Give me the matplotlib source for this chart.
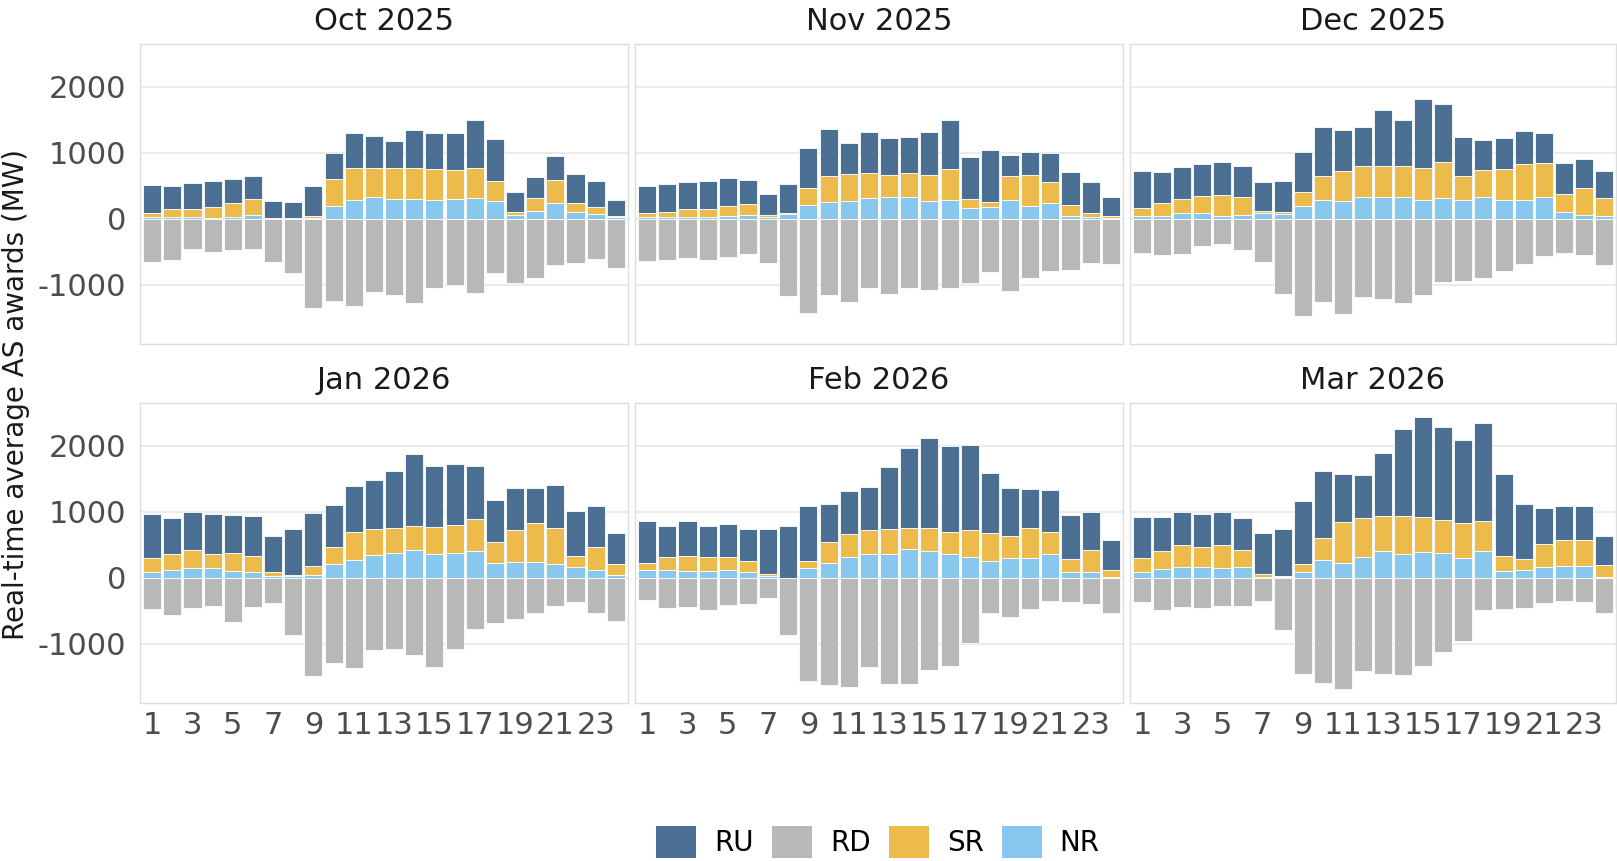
import matplotlib
matplotlib.use("Agg")
import matplotlib.pyplot as plt
import numpy as np
from matplotlib.patches import Patch

plt.rcParams['font.family'] = ['DejaVu Sans']
plt.rcParams['axes.unicode_minus'] = False

hours = list(range(1, 25))
months = ["Oct 2025", "Nov 2025", "Dec 2025", "Jan 2026", "Feb 2026", "Mar 2026"]
series = ["RU", "RD", "SR", "NR"]
colors = {"RU": "#4C6F94", "RD": "#B8B8B8", "SR": "#EDBB4C", "NR": "#89C8EE"}

ru = {
    "Oct 2025": [419, 359, 383, 389, 369, 343, 268, 248, 455, 389, 540, 485, 419, 580, 540, 551, 727, 646, 293, 313, 369, 445, 394, 253],
    "Nov 2025": [419, 414, 420, 419, 429, 354, 329, 429, 606, 702, 464, 611, 555, 540, 651, 743, 641, 787, 319, 338, 439, 495, 475, 283],
    "Dec 2025": [555, 460, 490, 475, 495, 475, 440, 470, 606, 732, 626, 596, 843, 697, 1040, 888, 596, 450, 459, 490, 445, 469, 444, 404],
    "Jan 2026": [669, 553, 583, 598, 568, 598, 558, 699, 804, 639, 689, 728, 859, 1085, 924, 925, 804, 643, 623, 528, 648, 688, 618, 482],
    "Feb 2026": [633, 477, 532, 477, 502, 498, 694, 784, 834, 573, 644, 648, 939, 1211, 1367, 1307, 1281, 900, 729, 578, 639, 664, 588, 457],
    "Mar 2026": [634, 513, 493, 498, 503, 493, 623, 709, 950, 1010, 729, 653, 954, 1311, 1517, 1412, 1251, 1493, 1241, 830, 552, 512, 502, 447],
}
rd = {
    "Oct 2025": [-651, -631, -455, -510, -480, -455, -651, -828, -1354, -1242, -1328, -1106, -1162, -1283, -1056, -1005, -1131, -828, -975, -894, -707, -672, -616, -753],
    "Nov 2025": [-641, -626, -591, -631, -581, -530, -672, -1167, -1424, -1157, -1258, -1045, -1141, -1056, -1076, -1045, -970, -808, -1096, -899, -798, -778, -672, -682],
    "Dec 2025": [-525, -545, -535, -414, -384, -475, -651, -1146, -1475, -1258, -1449, -1192, -1212, -1283, -1157, -955, -944, -894, -788, -682, -571, -515, -545, -697],
    "Jan 2026": [-472, -563, -457, -437, -673, -447, -387, -864, -1487, -1296, -1367, -1095, -1075, -1176, -1357, -1075, -774, -693, -628, -543, -427, -372, -543, -663],
    "Feb 2026": [-332, -457, -447, -492, -417, -392, -312, -874, -1573, -1633, -1653, -1352, -1618, -1618, -1397, -1332, -995, -533, -603, -472, -347, -362, -392, -543],
    "Mar 2026": [-372, -497, -447, -457, -427, -437, -357, -799, -1457, -1598, -1688, -1417, -1457, -1472, -1342, -1121, -960, -487, -482, -462, -382, -357, -362, -528],
}
sr = {
    "Oct 2025": [66, 116, 132, 162, 202, 248, 3, 3, 35, 409, 475, 450, 470, 470, 465, 449, 455, 298, 56, 202, 354, 126, 101, 15],
    "Nov 2025": [61, 86, 121, 132, 147, 177, 30, 20, 258, 399, 409, 379, 344, 374, 389, 459, 131, 81, 353, 475, 324, 167, 61, 40],
    "Dec 2025": [122, 197, 217, 262, 314, 273, 35, 35, 202, 369, 454, 475, 475, 475, 480, 546, 353, 419, 470, 545, 525, 273, 415, 273],
    "Jan 2026": [206, 241, 271, 216, 276, 252, 55, 25, 136, 266, 422, 407, 382, 367, 407, 432, 487, 317, 488, 593, 543, 161, 356, 156],
    "Feb 2026": [115, 196, 226, 206, 196, 156, 25, 0, 115, 322, 356, 367, 382, 327, 347, 326, 417, 432, 342, 468, 331, 191, 322, 111],
    "Mar 2026": [201, 276, 331, 296, 351, 246, 45, 20, 121, 342, 623, 593, 528, 583, 528, 492, 532, 452, 231, 165, 342, 387, 402, 176],
}
nr = {
    "Oct 2025": [25, 25, 20, 15, 30, 50, 2, 2, 10, 192, 288, 323, 293, 293, 288, 293, 308, 268, 50, 116, 232, 106, 71, 20],
    "Nov 2025": [20, 20, 20, 20, 45, 50, 20, 71, 207, 253, 268, 318, 323, 323, 268, 288, 162, 177, 288, 192, 232, 40, 20, 5],
    "Dec 2025": [45, 45, 81, 86, 45, 50, 81, 71, 197, 283, 263, 323, 323, 323, 288, 308, 288, 323, 288, 288, 323, 106, 50, 45],
    "Jan 2026": [85, 111, 146, 146, 101, 80, 25, 20, 45, 201, 271, 337, 377, 417, 362, 372, 402, 221, 241, 241, 206, 166, 111, 45],
    "Feb 2026": [111, 111, 101, 101, 111, 90, 25, 0, 141, 221, 312, 357, 362, 432, 402, 362, 312, 246, 291, 291, 357, 90, 90, 10],
    "Mar 2026": [90, 126, 166, 166, 146, 166, 10, 5, 90, 261, 221, 312, 402, 357, 387, 377, 302, 402, 101, 116, 166, 181, 176, 10],
}

W, H = 1617, 861
fig = plt.figure(figsize=(W / 100, H / 100), dpi=100)

cols_px = [(140, 628), (635, 1123), (1130, 1616)]
rows_px = [(44, 344), (403, 703)]

tick_color = "#4D4D4D"
fs_tick = 22
fs_title = 22

for i, m in enumerate(months):
    r, c = divmod(i, 3)
    x0, x1 = cols_px[c]
    y0, y1 = rows_px[r]
    ax = fig.add_axes([x0 / W, 1 - y1 / H, (x1 - x0) / W, (y1 - y0) / H])
    x = np.array(hours)
    nr_v = np.array(nr[m]); sr_v = np.array(sr[m]); ru_v = np.array(ru[m]); rd_v = np.array(rd[m])
    kw = dict(width=0.9, edgecolor="white", linewidth=0.6, zorder=3)
    ax.bar(x, nr_v, color=colors["NR"], **kw)
    ax.bar(x, sr_v, bottom=nr_v, color=colors["SR"], **kw)
    ax.bar(x, ru_v, bottom=nr_v + sr_v, color=colors["RU"], **kw)
    ax.bar(x, rd_v, color=colors["RD"], **kw)
    ax.set_xlim(0.4, 24.6)
    ax.set_ylim(-1899, 2646)
    ax.set_yticks([-1000, 0, 1000, 2000])
    ax.grid(axis="y", color="#EBEBEB", linewidth=1.5, zorder=0)
    ax.set_axisbelow(True)
    for s in ax.spines.values():
        s.set_color("#DDDDDD")
        s.set_linewidth(1.0)
    ax.tick_params(length=0, colors=tick_color, labelsize=fs_tick)
    ax.tick_params(axis="x", pad=6)
    ax.tick_params(axis="y", pad=10)
    ax.set_xticks(range(1, 25, 2))
    if r == 1:
        ax.set_xticklabels([str(h) for h in range(1, 25, 2)])
    else:
        ax.set_xticklabels([])
    if c != 0:
        ax.set_yticklabels([])
    ax.set_title(m, fontsize=fs_title, color="#1A1A1A", pad=10)

fig.text(16 / W, 1 - 395 / H, "Real-time average AS awards (MW)", rotation=90,
         ha="center", va="center", fontsize=20, color="#1A1A1A")

handles = [Patch(facecolor=colors[s], edgecolor="none", label=s) for s in series]
fig.legend(handles=handles, loc="center", bbox_to_anchor=(878 / W, 1 - 842 / H), ncol=4,
           frameon=False, fontsize=20, handlelength=1.44, handleheight=1.44, handletextpad=0.65,
           columnspacing=0.65, borderpad=0, borderaxespad=0)

fig.savefig("out.png", dpi=100)
